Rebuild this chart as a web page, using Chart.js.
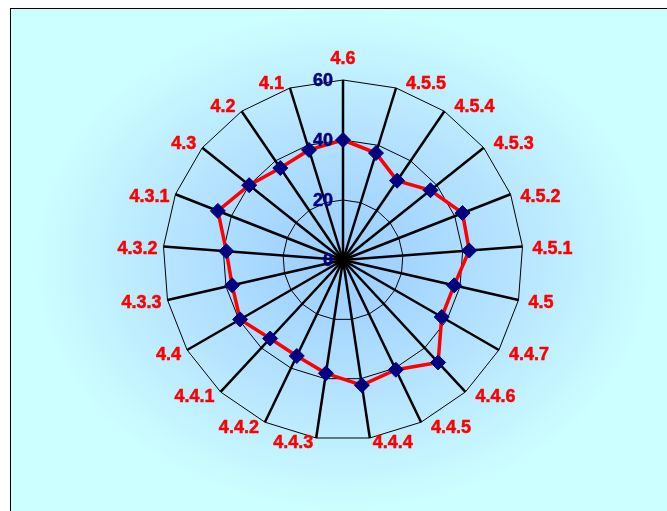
<!DOCTYPE html>
<html>
<head>
<meta charset="utf-8">
<script src="https://cdn.jsdelivr.net/npm/chart.js@4/dist/chart.umd.min.js"></script>
<style>
  html, body { margin: 0; padding: 0; background: #ffffff; overflow: hidden; }
  #stage { position: relative; width: 667px; height: 511px; overflow: hidden; }
  #frame {
    position: absolute; left: 10px; top: 8px; width: 720px; height: 560px;
    border-left: 1px solid #000; border-top: 1px solid #000;
    background: radial-gradient(310px 250px at 332px 251px, #99ccff 0%, #b6e4ff 55%, #ccffff 100%);
  }
  #chart { position: absolute; left: 0; top: 0; }
</style>
</head>
<body>
<div id="stage">
  <div id="frame"></div>
  <canvas id="chart" width="667" height="511"></canvas>
</div>
<script>
// Categories, clockwise from the top
const categories = ['4.6', '4.5.5', '4.5.4', '4.5.3', '4.5.2', '4.5.1', '4.5', '4.4.7', '4.4.6', '4.4.5',
  '4.4.4', '4.4.3', '4.4.2', '4.4.1', '4.4', '4.3.3', '4.3.2', '4.3.1', '4.3', '4.2', '4.1'];
// Series values
const scores = [40, 37.3, 32, 37.3, 42.8, 42.2, 38, 38, 46.6, 40.6,
  42.2, 38.2, 35.5, 35.7, 39.6, 37.9, 39, 44.8, 40, 37.1, 38.4];
// Radial tick labels
const tickValues = [0, 20, 40, 60];

const FONT = 'bold 18px "Liberation Sans", Arial, sans-serif';

// Heavy text: fill plus a hairline stroke of the same colour
function heavyText(ctx, text, x, y) {
  ctx.fillText(text, x, y);
  ctx.strokeText(text, x, y);
}

// Draws the category names round the outer ring and the value ticks up the top spoke
const labelPlugin = {
  id: 'radarText',
  afterDatasetsDraw(chart) {
    const scale = chart.scales.r;
    const ctx = chart.ctx;
    const outer = scale.getDistanceFromCenterForValue(scale.max);
    ctx.save();
    ctx.font = FONT;
    ctx.lineWidth = 0.5;
    ctx.lineJoin = 'round';

    // category labels
    ctx.fillStyle = ctx.strokeStyle = '#ff0000';
    categories.forEach((name, i) => {
      const p = scale.getPointPosition(i, outer);
      const deg = (360 * i / categories.length);
      if (i === 0) {
        ctx.textAlign = 'center';
        ctx.textBaseline = 'alphabetic';
        heavyText(ctx, name, p.x, p.y - 16);
        return;
      }
      const right = deg < 180;
      const nearBottom = Math.abs(deg - 180) < 15;
      let dx = nearBottom ? 3 : (right ? 10 : 6);
      let dy;
      if (deg < 60 || deg > 300) dy = -4;
      else if (deg < 118 || deg > 242) dy = 2.5;
      else dy = 5.5;
      ctx.textAlign = right ? 'left' : 'right';
      ctx.textBaseline = 'middle';
      heavyText(ctx, name, p.x + (right ? dx : -dx), p.y + dy);
    });

    // value ticks
    ctx.fillStyle = ctx.strokeStyle = '#000080';
    ctx.textAlign = 'right';
    ctx.textBaseline = 'middle';
    tickValues.forEach(v => {
      const d = scale.getDistanceFromCenterForValue(v);
      heavyText(ctx, String(v), scale.xCenter - 10, scale.yCenter - d + 1);
    });
    ctx.restore();
  }
};

new Chart(document.getElementById('chart'), {
  type: 'radar',
  data: {
    labels: categories,
    datasets: [{
      data: scores,
      borderColor: '#ff0000',
      borderWidth: 3.5,
      fill: false,
      tension: 0,
      pointStyle: 'rectRot',
      pointRadius: 7.5,
      pointBackgroundColor: '#000080',
      pointBorderColor: '#000080',
      pointBorderWidth: 1
    }]
  },
  options: {
    responsive: false,
    animation: false,
    devicePixelRatio: 1,
    layout: { padding: { left: 163, top: 80, right: 144, bottom: 71 } },
    plugins: { legend: { display: false }, tooltip: { enabled: false } },
    scales: {
      r: {
        min: 0,
        max: 60,
        ticks: { stepSize: 20, display: false },
        grid: { circular: false, color: '#000000', lineWidth: 1 },
        angleLines: { color: '#000000', lineWidth: 2.5 },
        pointLabels: { display: false }
      }
    }
  },
  plugins: [labelPlugin]
});
</script>
</body>
</html>
